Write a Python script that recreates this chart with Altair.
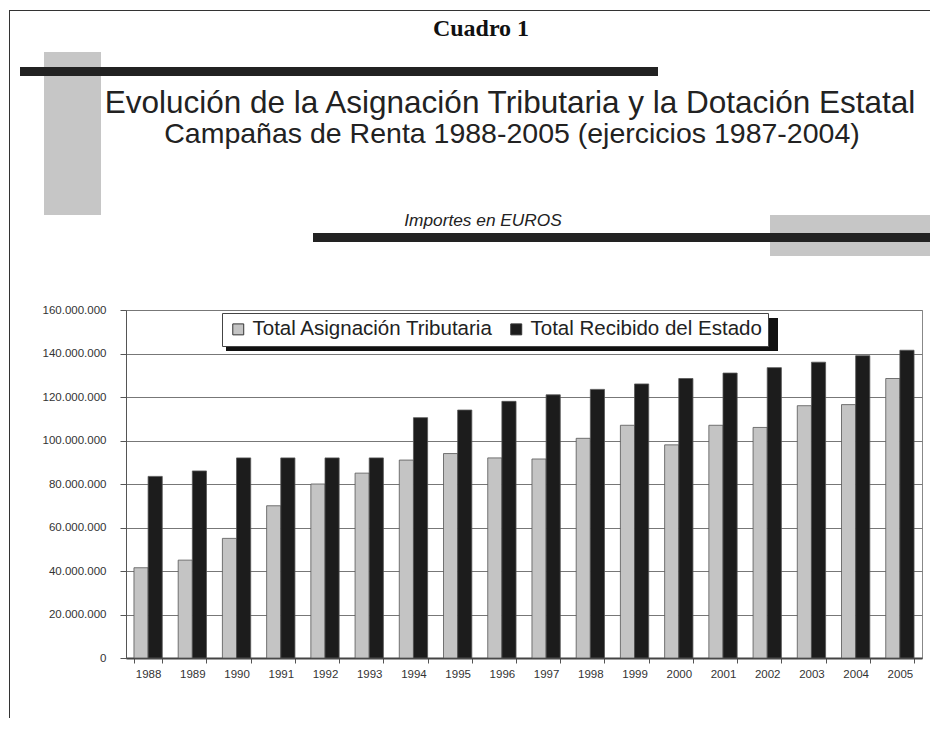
import altair as alt
import pandas as pd

years = [str(y) for y in range(1988, 2006)]
asignacion = [41.5, 45, 55, 70, 80, 85, 91, 94, 92, 91.5, 101, 107, 98, 107, 106, 116, 116.5, 128.5]
recibido = [83.5, 86, 92, 92, 92, 92, 110.5, 114, 118, 121, 123.5, 126, 128.5, 131, 133.5, 136, 139, 141.5]
series = ["Total Asignación Tributaria", "Total Recibido del Estado"]
colors = ["#c4c4c4", "#1c1c1c"]

rows = []
for i, y in enumerate(years):
    rows.append({"Año": y, "Serie": series[0], "Importe": asignacion[i] * 1e6})
    rows.append({"Año": y, "Serie": series[1], "Importe": recibido[i] * 1e6})
df = pd.DataFrame(rows)
one = pd.DataFrame({"k": [0]})

FONT = "Liberation Sans"
W, H = 796, 348

bars = alt.Chart(df).mark_bar(stroke="#555", strokeWidth=0.8).encode(
    x=alt.X("Año:N", sort=years, title=None,
            scale=alt.Scale(paddingInner=0.36, paddingOuter=0.18),
            axis=alt.Axis(labelAngle=0, labelFont=FONT, labelFontSize=11.5,
                          labelColor="#333", tickBand="extent", tickColor="#555",
                          tickSize=5, labelPadding=5, domainColor="#444",
                          domainWidth=2, grid=False)),
    xOffset=alt.XOffset("Serie:N", sort=series),
    y=alt.Y("Importe:Q", title=None,
            scale=alt.Scale(domain=[0, 160e6]),
            axis=alt.Axis(values=[i * 20e6 for i in range(9)],
                          labelExpr="join(split(format(datum.value, ',d'), ','), '.')",
                          labelFont=FONT, labelFontSize=11.5, labelColor="#333",
                          tickSize=6, tickColor="#555", labelPadding=14,
                          domainColor="#555", gridColor="#777", gridWidth=1)),
    color=alt.Color("Serie:N", sort=series,
                    scale=alt.Scale(domain=series, range=colors),
                    legend=alt.Legend(title=None, orient="none", legendX=96, legendY=3,
                                      direction="horizontal", symbolType="square",
                                      symbolSize=120, symbolStrokeColor="#333",
                                      symbolStrokeWidth=1, labelFont=FONT,
                                      labelFontSize=20.5, labelColor="#222",
                                      columnPadding=12, padding=6,
                                      fillColor="white", strokeColor="#444",
                                      labelLimit=400)),
)

def rect(x, x2, y, y2, color):
    return alt.Chart(one).mark_rect(color=color).encode(
        x=alt.value(x), x2=alt.value(x2), y=alt.value(y), y2=alt.value(y2))

def text(x, y, s, size, **kw):
    return alt.Chart(one).mark_text(text=s, fontSize=size, align="center",
                                    baseline="middle", **kw).encode(
        x=alt.value(x), y=alt.value(y))

gray = "#c6c6c6"
decor = [
    rect(-82, -25, -258, -95, gray),
    rect(-106, 532, -243, -234, "#222"),
    rect(644, 812, -95, -54, gray),
    rect(187, 812, -77, -68, "#222"),
    rect(-117, 812, -300, -299, "#333"),
    rect(-117, -116, -300, 410, "#333"),
    text(355, -281, "Cuadro 1", 24, font="Liberation Serif", fontWeight="bold", color="#111"),
    text(384, -206, "Evolución de la Asignación Tributaria y la Dotación Estatal", 31.5, font=FONT, color="#222"),
    text(386, -176, "Campañas de Renta 1988-2005 (ejercicios 1987-2004)", 28.5, font=FONT, color="#222"),
    text(357, -89, "Importes en EUROS", 17.3, font=FONT, fontStyle="italic", color="#222"),
]

legend_shadow = alt.Chart(one).mark_rect(color="#111").encode(
    x=alt.value(100), x2=alt.value(652), y=alt.value(8), y2=alt.value(41))

chart = alt.layer(*decor, legend_shadow, bars).properties(
    width=W, height=H,
    autosize=alt.AutoSizeParams(type="none"),
    padding={"left": 118, "top": 302, "right": 8, "bottom": 60},
    background="white",
).configure_view(stroke="#888", strokeWidth=1)

chart.save("out.html", embed_options={"renderer": "svg", "actions": False})
